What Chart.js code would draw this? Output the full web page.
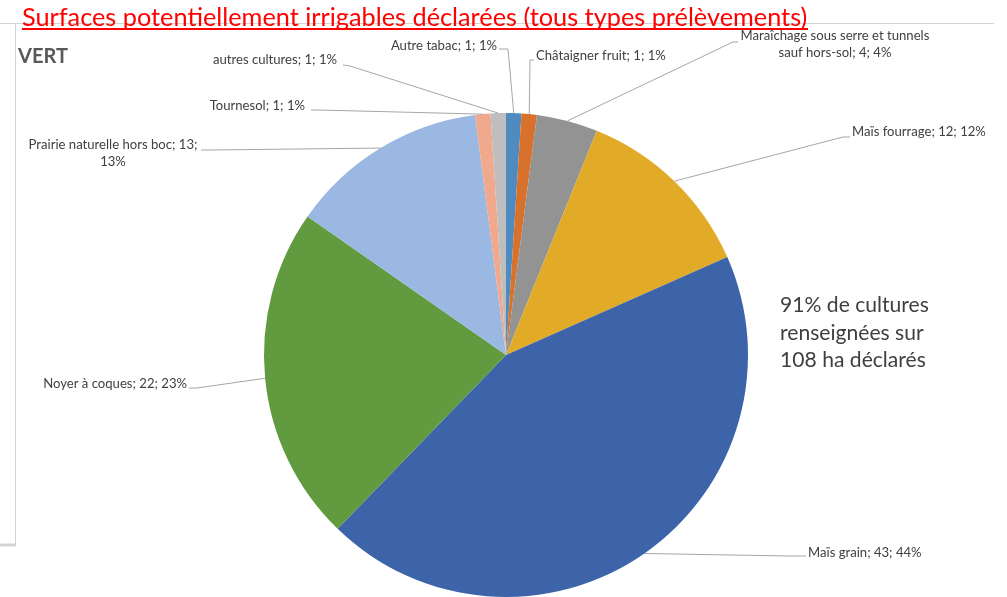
<!DOCTYPE html>
<html lang="fr">
<head>
<meta charset="utf-8">
<title>Surfaces potentiellement irrigables déclarées</title>
<script src="https://cdn.jsdelivr.net/npm/chart.js@4.4.1/dist/chart.umd.min.js"></script>
<style>
  html, body { margin: 0; padding: 0; background: #fff; }
  #wrap { width: 1007px; height: 597px; }
</style>
</head>
<body>
<div id="wrap"><canvas id="myChart" width="1007" height="597"></canvas></div>
<script>
/* globals Chart:false */

// Data
const cultures = [
  'Autre tabac',
  'Châtaigner fruit',
  'Maraîchage sous serre et tunnels sauf hors-sol',
  'Maïs fourrage',
  'Maïs grain',
  'Noyer à coques',
  'Prairie naturelle hors boc',
  'Tournesol',
  'autres cultures'
]
const surfaces = [1, 1, 4, 12, 43, 22, 13, 1, 1]
const percents = [1, 1, 4, 12, 44, 23, 13, 1, 1]
const colours = ['#4f8bc0', '#d8712b', '#939393', '#e2ab27', '#3d64a9', '#629a40', '#9ab8e1', '#f0a98d', '#bebebe']

const titleText = 'Surfaces potentiellement irrigables déclarées (tous types prélèvements)'
const noteLines = ['91% de cultures', 'renseignées sur', '108 ha déclarés']

;(() => {
  'use strict'

  const FONT = 'Lato, "Open Sans", sans-serif'

  // label placement (text anchor + leader line start), one per slice
  const labelLayout = [
    { x: 497, y: 46, align: 'right', wrap: 0, line: [[499, 49], [508, 49]] },
    { x: 536, y: 56, align: 'left', wrap: 0, line: [[534, 60], [530, 60]] },
    { x: 835, y: 36, align: 'center', wrap: 210, line: [[738, 42], [733, 42]] },
    { x: 852, y: 132, align: 'left', wrap: 0, line: [[850, 137], [843, 137]] },
    { x: 808, y: 553, align: 'left', wrap: 0, line: [[806, 556], [790, 556]] },
    { x: 187, y: 384, align: 'right', wrap: 0, line: [[189, 388], [197, 388]] },
    { x: 113, y: 145, align: 'center', wrap: 180, line: [[201, 150], [210, 150]] },
    { x: 305, y: 106, align: 'right', wrap: 0, line: [[311, 110], [318, 110]] },
    { x: 337, y: 60, align: 'right', wrap: 0, line: [[343, 65], [350, 66]] }
  ]

  // font size giving a wanted text width
  function fitSize (ctx, text, width, weight) {
    ctx.font = weight + ' 100px ' + FONT
    return 100 * width / ctx.measureText(text).width
  }

  function wrapText (ctx, text, maxWidth) {
    if (!maxWidth) return [text]
    const words = text.split(' ')
    const lines = []
    let cur = ''
    words.forEach(w => {
      const test = cur ? cur + ' ' + w : w
      if (cur && ctx.measureText(test).width > maxWidth) {
        lines.push(cur)
        cur = w
      } else {
        cur = test
      }
    })
    if (cur) lines.push(cur)
    return lines
  }

  const decorPlugin = {
    id: 'decor',
    afterDraw (chart) {
      const ctx = chart.ctx
      ctx.save()

      // slide frame
      ctx.strokeStyle = '#d4d4d4'
      ctx.lineWidth = 1
      ctx.beginPath()
      ctx.moveTo(0, 23.5); ctx.lineTo(994, 23.5)
      ctx.moveTo(15.5, 23); ctx.lineTo(15.5, 545)
      ctx.stroke()
      ctx.lineWidth = 3
      ctx.beginPath()
      ctx.moveTo(0, 545); ctx.lineTo(16, 545)
      ctx.stroke()

      // title
      const ts = fitSize(ctx, titleText, 786, 'normal')
      ctx.font = ts + 'px ' + FONT
      ctx.fillStyle = '#ff0000'
      ctx.textAlign = 'left'
      ctx.textBaseline = 'alphabetic'
      ctx.fillText(titleText, 22, 26)
      ctx.fillRect(22, 28, 786, 2)

      // VERT
      const vs = fitSize(ctx, 'VERT', 50, 'bold')
      ctx.font = 'bold ' + vs + 'px ' + FONT
      ctx.fillStyle = '#595959'
      ctx.fillText('VERT', 18, 63)

      // note on the right
      const ns = fitSize(ctx, noteLines[0], 149, 'normal')
      ctx.font = ns + 'px ' + FONT
      ctx.fillStyle = '#404040'
      noteLines.forEach((t, i) => ctx.fillText(t, 780, 312 + i * 27.5))

      // data labels with leader lines
      const meta = chart.getDatasetMeta(0)
      const ls = fitSize(ctx, 'Noyer à coques; 22; 23%', 144, 'normal')
      meta.data.forEach((arc, i) => {
        const lay = labelLayout[i]
        const mid = (arc.startAngle + arc.endAngle) / 2
        const ax = arc.x + Math.cos(mid) * arc.outerRadius
        const ay = arc.y + Math.sin(mid) * arc.outerRadius
        ctx.strokeStyle = '#a6a6a6'
        ctx.lineWidth = 1
        ctx.beginPath()
        lay.line.forEach((p, k) => (k ? ctx.lineTo(p[0], p[1]) : ctx.moveTo(p[0], p[1])))
        ctx.lineTo(ax, ay)
        ctx.stroke()

        ctx.font = ls + 'px ' + FONT
        ctx.fillStyle = '#404040'
        ctx.textAlign = lay.align
        ctx.textBaseline = 'middle'
        const text = cultures[i] + '; ' + surfaces[i] + '; ' + percents[i] + '%'
        wrapText(ctx, text, lay.wrap).forEach((t, k) => ctx.fillText(t, lay.x, lay.y + k * 17))
      })
      ctx.restore()
    }
  }

  const ctx = document.getElementById('myChart')
  // eslint-disable-next-line no-unused-vars
  const myChart = new Chart(ctx, {
    type: 'pie',
    data: {
      labels: cultures,
      datasets: [{
        data: surfaces,
        backgroundColor: colours,
        borderWidth: 0
      }]
    },
    options: {
      responsive: false,
      animation: false,
      devicePixelRatio: 1,
      layout: {
        padding: { top: 113, bottom: 0, left: 264, right: 259 }
      },
      plugins: {
        legend: { display: false },
        tooltip: { enabled: false }
      }
    },
    plugins: [decorPlugin]
  })
})()
</script>
</body>
</html>
